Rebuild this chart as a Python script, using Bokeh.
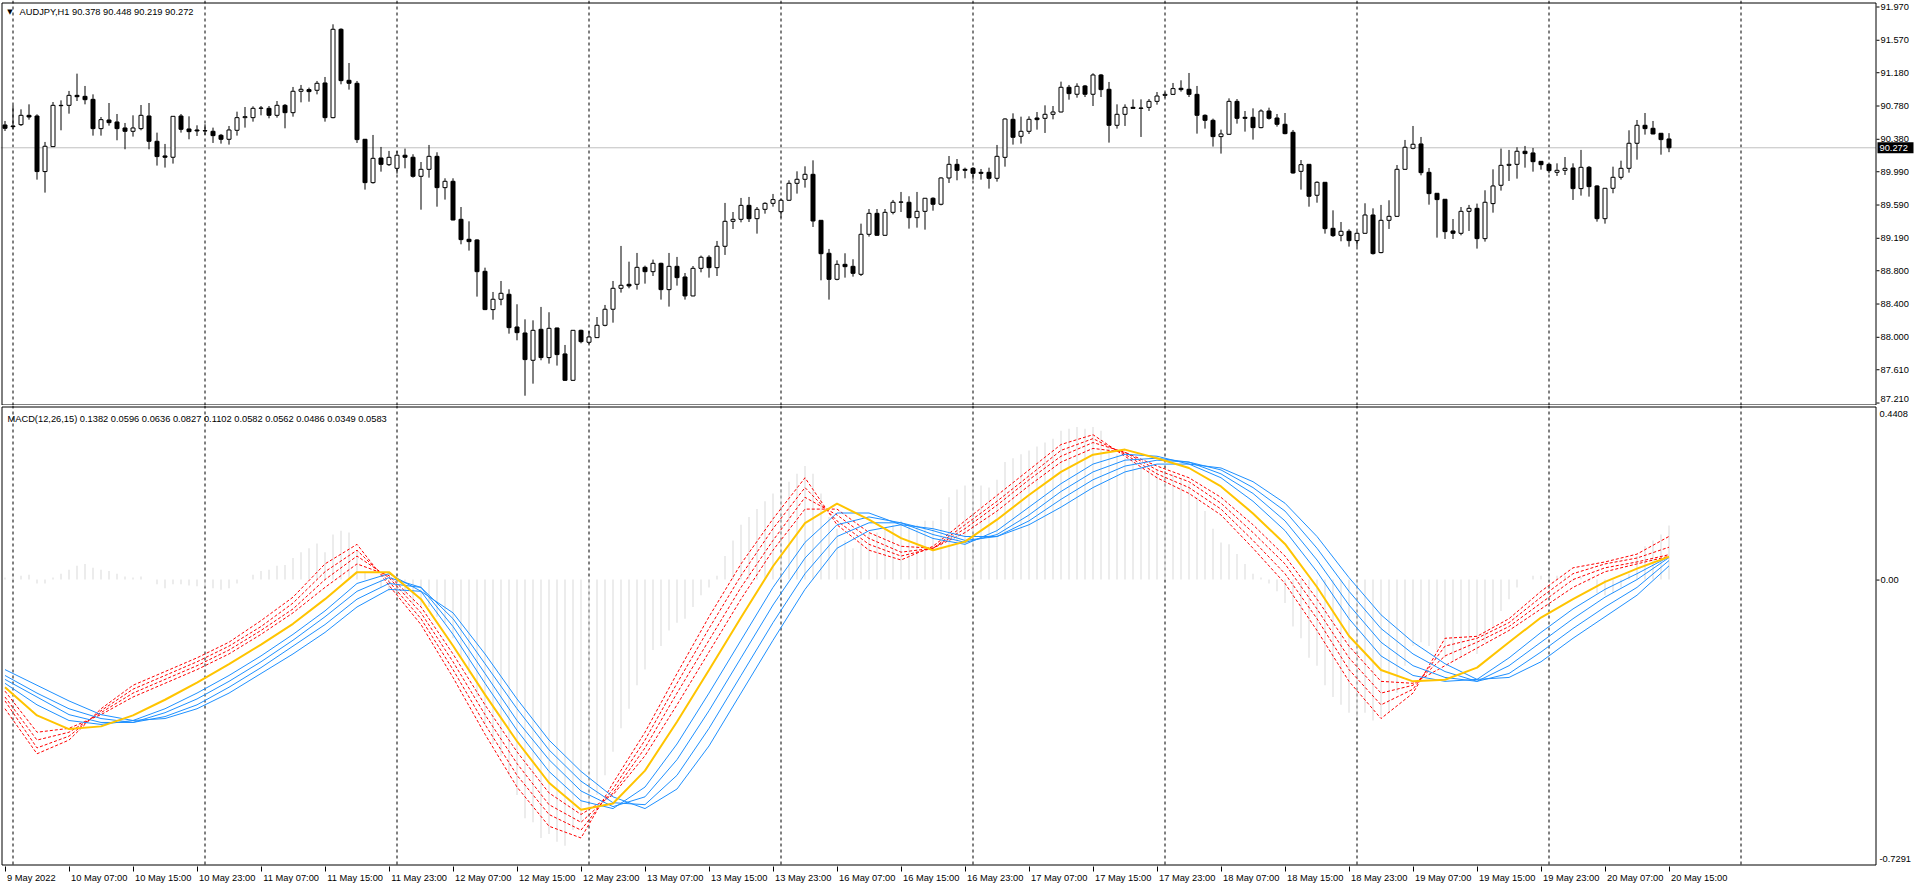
from bokeh.plotting import figure
from bokeh.layouts import column
from bokeh.models import Range1d, FixedTicker, Span, Label
from bokeh.core.properties import value
from bokeh.embed import file_html
from bokeh.resources import INLINE

# ---------------- data ----------------
opens = [90.546, 90.534, 90.550, 90.662, 90.654, 89.986, 90.286, 90.782, 90.782, 90.902,
         90.890, 90.854, 90.502, 90.606, 90.582, 90.510, 90.470, 90.502, 90.654, 90.350,
         90.174, 90.158, 90.654, 90.498, 90.486, 90.478, 90.470, 90.422, 90.374, 90.482,
         90.634, 90.634, 90.746, 90.746, 90.662, 90.782, 90.694, 90.951, 90.971, 90.963,
         91.051, 90.634, 91.696, 91.083, 91.047, 90.374, 89.853, 90.149, 90.069, 90.025,
         90.182, 90.158, 89.929, 90.013, 90.169, 89.793, 89.869, 89.412, 89.172, 89.164,
         88.787, 88.327, 88.451, 88.511, 88.118, 88.046, 87.718, 88.090, 87.750, 88.106,
         87.794, 87.477, 88.078, 87.934, 87.990, 88.138, 88.331, 88.583, 88.631, 88.631,
         88.835, 88.783, 88.883, 88.567, 88.847, 88.719, 88.491, 88.823, 88.956, 88.831,
         89.088, 89.388, 89.412, 89.580, 89.420, 89.532, 89.604, 89.504, 89.641, 89.845,
         89.893, 89.953, 89.400, 89.004, 88.691, 88.871, 88.847, 88.751, 89.232, 89.484,
         89.220, 89.496, 89.617, 89.617, 89.432, 89.508, 89.665, 89.593, 89.909, 90.073,
         90.013, 90.025, 89.977, 89.977, 89.905, 90.157, 90.614, 90.410, 90.470, 90.630,
         90.626, 90.674, 90.702, 90.999, 90.915, 91.015, 90.915, 91.147, 90.975, 90.542,
         90.674, 90.758, 90.750, 90.758, 90.830, 90.902, 90.914, 90.987, 90.975, 90.914,
         90.662, 90.602, 90.406, 90.434, 90.830, 90.638, 90.638, 90.514, 90.714, 90.630,
         90.554, 90.458, 89.989, 90.073, 89.701, 89.857, 89.304, 89.220, 89.268, 89.156,
         89.244, 89.464, 89.012, 89.400, 89.448, 90.013, 90.266, 90.318, 89.977, 89.725,
         89.653, 89.272, 89.244, 89.508, 89.544, 89.180, 89.601, 89.821, 90.061, 90.073,
         90.230, 90.210, 90.109, 90.073, 89.977, 90.001, 90.029, 89.781, 90.037, 89.813,
         89.420, 89.785, 89.917, 90.025, 90.326, 90.542, 90.506, 90.446, 90.378]
highs = [90.594, 90.782, 90.734, 90.794, 90.674, 90.342, 90.822, 90.842, 90.955, 91.163,
         91.015, 90.914, 90.642, 90.810, 90.678, 90.570, 90.662, 90.786, 90.810, 90.454,
         90.318, 90.652, 90.678, 90.650, 90.542, 90.554, 90.514, 90.438, 90.534, 90.706,
         90.762, 90.770, 90.774, 90.774, 90.834, 90.798, 91.003, 91.027, 90.995, 91.075,
         91.123, 91.756, 91.708, 91.291, 91.075, 90.378, 90.426, 90.282, 90.234, 90.234,
         90.262, 90.194, 90.101, 90.306, 90.218, 89.905, 89.905, 89.560, 89.388, 89.172,
         88.831, 88.539, 88.671, 88.571, 88.391, 88.210, 88.198, 88.359, 88.295, 88.110,
         87.902, 88.082, 88.086, 88.070, 88.238, 88.383, 88.671, 89.092, 88.903, 89.008,
         88.855, 88.928, 88.891, 89.008, 88.960, 88.767, 88.851, 88.976, 88.980, 89.152,
         89.609, 89.500, 89.669, 89.681, 89.560, 89.617, 89.717, 89.661, 89.881, 89.989,
         90.049, 90.121, 89.400, 89.056, 88.919, 89.004, 88.932, 89.360, 89.536, 89.536,
         89.536, 89.645, 89.741, 89.689, 89.741, 89.669, 89.677, 89.917, 90.173, 90.137,
         90.033, 90.041, 90.017, 90.033, 90.306, 90.626, 90.686, 90.646, 90.650, 90.702,
         90.782, 90.774, 91.067, 91.027, 91.047, 91.027, 91.167, 91.159, 91.063, 90.794,
         90.794, 90.854, 90.854, 90.858, 90.942, 90.938, 91.051, 91.083, 91.171, 91.015,
         90.674, 90.622, 90.490, 90.866, 90.858, 90.714, 90.746, 90.734, 90.754, 90.678,
         90.690, 90.486, 90.125, 90.073, 89.869, 89.857, 89.520, 89.380, 89.292, 89.268,
         89.605, 89.544, 89.585, 89.641, 90.065, 90.366, 90.534, 90.402, 90.029, 89.725,
         89.653, 89.416, 89.560, 89.585, 89.601, 89.761, 90.013, 90.262, 90.246, 90.278,
         90.294, 90.270, 90.113, 90.081, 90.085, 90.161, 90.085, 90.246, 90.053, 89.821,
         89.785, 90.045, 90.117, 90.482, 90.606, 90.690, 90.594, 90.450, 90.448]
lows = [90.474, 90.494, 90.534, 90.610, 89.889, 89.733, 90.280, 90.482, 90.682, 90.834,
        90.794, 90.418, 90.418, 90.538, 90.362, 90.254, 90.406, 90.482, 90.254, 90.058,
        90.034, 90.082, 90.454, 90.374, 90.414, 90.426, 90.330, 90.322, 90.310, 90.418,
        90.514, 90.586, 90.662, 90.626, 90.634, 90.506, 90.646, 90.818, 90.826, 90.914,
        90.586, 90.626, 91.035, 90.971, 90.330, 89.769, 89.841, 89.985, 90.053, 89.961,
        90.025, 89.913, 89.528, 89.913, 89.564, 89.649, 89.400, 89.112, 89.036, 88.483,
        88.321, 88.206, 88.379, 88.038, 87.958, 87.292, 87.437, 87.718, 87.678, 87.654,
        87.470, 87.470, 87.922, 87.910, 87.986, 88.126, 88.170, 88.531, 88.583, 88.567,
        88.639, 88.731, 88.447, 88.363, 88.615, 88.447, 88.487, 88.775, 88.711, 88.731,
        88.984, 89.296, 89.376, 89.380, 89.240, 89.480, 89.564, 89.432, 89.633, 89.721,
        89.793, 89.320, 88.679, 88.447, 88.679, 88.711, 88.723, 88.731, 89.204, 89.216,
        89.216, 89.472, 89.500, 89.300, 89.312, 89.288, 89.516, 89.580, 89.849, 89.881,
        89.905, 89.889, 89.889, 89.781, 89.865, 90.045, 90.310, 90.322, 90.438, 90.490,
        90.450, 90.614, 90.698, 90.850, 90.874, 90.882, 90.774, 90.882, 90.334, 90.502,
        90.534, 90.742, 90.402, 90.714, 90.790, 90.874, 90.906, 90.947, 90.882, 90.442,
        90.502, 90.286, 90.202, 90.430, 90.562, 90.466, 90.370, 90.506, 90.610, 90.526,
        90.434, 89.961, 89.769, 89.564, 89.612, 89.240, 89.200, 89.148, 89.084, 89.084,
        89.240, 88.988, 89.004, 89.296, 89.444, 90.009, 90.254, 89.941, 89.588, 89.192,
        89.176, 89.176, 89.220, 89.272, 89.060, 89.144, 89.492, 89.757, 89.873, 89.901,
        90.033, 89.985, 90.009, 89.965, 89.933, 89.945, 89.645, 89.697, 89.685, 89.384,
        89.360, 89.725, 89.889, 89.973, 90.129, 90.430, 90.434, 90.189, 90.219]
closes = [90.506, 90.526, 90.662, 90.642, 89.986, 90.290, 90.782, 90.778, 90.902, 90.886,
          90.850, 90.502, 90.610, 90.574, 90.502, 90.470, 90.510, 90.662, 90.350, 90.166,
          90.158, 90.650, 90.494, 90.466, 90.474, 90.474, 90.418, 90.374, 90.486, 90.634,
          90.646, 90.746, 90.750, 90.662, 90.782, 90.694, 90.951, 90.975, 90.947, 91.047,
          90.634, 91.696, 91.079, 91.047, 90.370, 89.853, 90.145, 90.073, 90.157, 90.182,
          90.158, 89.929, 90.013, 90.169, 89.793, 89.869, 89.404, 89.168, 89.144, 88.783,
          88.327, 88.451, 88.523, 88.110, 88.050, 87.726, 88.078, 87.750, 88.102, 87.786,
          87.477, 88.078, 87.942, 87.998, 88.138, 88.331, 88.583, 88.619, 88.611, 88.835,
          88.783, 88.883, 88.567, 88.847, 88.711, 88.491, 88.823, 88.956, 88.831, 89.088,
          89.388, 89.412, 89.580, 89.420, 89.532, 89.604, 89.649, 89.641, 89.845, 89.893,
          89.953, 89.392, 88.999, 88.691, 88.871, 88.843, 88.763, 89.232, 89.484, 89.220,
          89.496, 89.617, 89.621, 89.432, 89.508, 89.665, 89.593, 89.909, 90.073, 90.001,
          90.001, 89.965, 89.965, 89.905, 90.169, 90.618, 90.398, 90.470, 90.614, 90.610,
          90.674, 90.702, 90.999, 90.923, 91.011, 90.915, 91.147, 90.971, 90.542, 90.674,
          90.758, 90.746, 90.746, 90.830, 90.894, 90.914, 90.983, 90.971, 90.914, 90.662,
          90.602, 90.406, 90.438, 90.830, 90.626, 90.626, 90.514, 90.714, 90.626, 90.554,
          90.442, 89.969, 90.069, 89.689, 89.857, 89.300, 89.216, 89.268, 89.156, 89.244,
          89.464, 89.000, 89.400, 89.448, 90.013, 90.278, 90.314, 89.973, 89.721, 89.649,
          89.264, 89.244, 89.508, 89.544, 89.180, 89.617, 89.813, 90.061, 90.073, 90.230,
          90.202, 90.105, 90.069, 89.997, 90.001, 90.025, 89.781, 90.037, 89.805, 89.420,
          89.785, 89.917, 90.025, 90.326, 90.542, 90.502, 90.438, 90.370, 90.272]

x_tick_bars = list(range(0, 209, 8))
x_tick_labels = ["9 May 2022", "10 May 07:00", "10 May 15:00", "10 May 23:00", "11 May 07:00",
                 "11 May 15:00", "11 May 23:00", "12 May 07:00", "12 May 15:00", "12 May 23:00",
                 "13 May 07:00", "13 May 15:00", "13 May 23:00", "16 May 07:00", "16 May 15:00",
                 "16 May 23:00", "17 May 07:00", "17 May 15:00", "17 May 23:00", "18 May 07:00",
                 "18 May 15:00", "18 May 23:00", "19 May 07:00", "19 May 15:00", "19 May 23:00",
                 "20 May 07:00", "20 May 15:00"]
day_start_bars = [1, 25, 49, 73, 97, 121, 145, 169, 193, 217]
price_ticks = [91.970, 91.570, 91.180, 90.780, 90.380, 89.990, 89.590, 89.190,
               88.800, 88.400, 88.000, 87.610, 87.210]
price_tick_labels = ["91.970", "91.570", "91.180", "90.780", "90.380", "89.990", "89.590",
                     "89.190", "88.800", "88.400", "88.000", "87.610", "87.210"]
bid_price = 90.272
macd_max, macd_min = 0.4408, -0.7291

# MACD main (silver histogram), one value per bar
macd_hist = [0.005, 0.005, 0.010, 0.012, -0.010, -0.010, 0.005, 0.015, 0.025, 0.035,
             0.040, 0.030, 0.025, 0.022, 0.015, 0.008, 0.005, 0.008, 0.000, -0.012,
             -0.022, -0.012, -0.012, -0.015, -0.017, -0.018, -0.022, -0.026, -0.022, -0.010,
             0.000, 0.012, 0.022, 0.025, 0.035, 0.037, 0.055, 0.070, 0.080, 0.092,
             0.070, 0.115, 0.125, 0.120, 0.075, 0.020, 0.000, -0.020, -0.030, -0.035,
             -0.040, -0.060, -0.070, -0.070, -0.095, -0.110, -0.150, -0.200, -0.240, -0.300,
             -0.370, -0.420, -0.450, -0.500, -0.550, -0.610, -0.620, -0.660, -0.650, -0.670,
             -0.680, -0.640, -0.620, -0.590, -0.550, -0.500, -0.440, -0.380, -0.330, -0.270,
             -0.230, -0.180, -0.170, -0.130, -0.110, -0.100, -0.070, -0.040, -0.020, 0.010,
             0.060, 0.100, 0.140, 0.160, 0.180, 0.200, 0.220, 0.230, 0.250, 0.270,
             0.290, 0.270, 0.220, 0.160, 0.130, 0.100, 0.080, 0.100, 0.120, 0.120,
             0.130, 0.140, 0.150, 0.140, 0.140, 0.150, 0.150, 0.180, 0.210, 0.230,
             0.240, 0.240, 0.240, 0.235, 0.255, 0.300, 0.310, 0.320, 0.330, 0.340,
             0.350, 0.360, 0.380, 0.385, 0.390, 0.385, 0.390, 0.380, 0.340, 0.320,
             0.310, 0.300, 0.290, 0.285, 0.280, 0.275, 0.270, 0.260, 0.245, 0.210,
             0.175, 0.130, 0.095, 0.090, 0.065, 0.040, 0.015, 0.005, -0.010, -0.030,
             -0.060, -0.120, -0.150, -0.200, -0.220, -0.270, -0.300, -0.320, -0.340, -0.350,
             -0.340, -0.360, -0.350, -0.340, -0.290, -0.220, -0.170, -0.160, -0.170, -0.180,
             -0.200, -0.210, -0.200, -0.180, -0.190, -0.160, -0.120, -0.080, -0.050, -0.020,
             0.000, 0.010, 0.010, 0.010, 0.010, 0.010, -0.005, 0.005, -0.005, -0.035,
             -0.040, -0.035, -0.020, 0.015, 0.060, 0.085, 0.100, 0.115, 0.1382]

# smoothed lines, sampled every 4 bars
line_bars = list(range(0, 209, 4))
macd_yellow = [-0.275, -0.347, -0.382, -0.375, -0.347, -0.307, -0.263, -0.216, -0.166, -0.113,
               -0.050, 0.019, 0.019, -0.050, -0.169, -0.294, -0.413, -0.519, -0.588, -0.572,
               -0.488, -0.363, -0.231, -0.097, 0.034, 0.144, 0.194, 0.153, 0.106, 0.075,
               0.097, 0.153, 0.216, 0.275, 0.319, 0.332, 0.310, 0.285, 0.238, 0.169,
               0.091, -0.019, -0.144, -0.231, -0.260, -0.256, -0.225, -0.160, -0.097, -0.050,
               -0.006, 0.028, 0.0583]
red_1 = [-0.285, -0.390, -0.380, -0.345, -0.300, -0.265, -0.230, -0.190, -0.140, -0.085,
         -0.020, 0.040, 0.010, -0.070, -0.190, -0.320, -0.440, -0.545, -0.600, -0.550,
         -0.450, -0.320, -0.185, -0.050, 0.075, 0.180, 0.180, 0.120, 0.085, 0.080,
         0.120, 0.175, 0.240, 0.300, 0.335, 0.325, 0.290, 0.260, 0.210, 0.140,
         0.060, -0.050, -0.170, -0.260, -0.265, -0.220, -0.175, -0.130, -0.075, -0.020,
         0.020, 0.040, 0.0596]
red_2 = [-0.300, -0.410, -0.390, -0.340, -0.290, -0.255, -0.220, -0.180, -0.130, -0.075,
         0.000, 0.060, 0.005, -0.085, -0.210, -0.345, -0.470, -0.575, -0.620, -0.545,
         -0.430, -0.290, -0.155, -0.020, 0.100, 0.210, 0.165, 0.105, 0.070, 0.080,
         0.130, 0.190, 0.255, 0.315, 0.350, 0.325, 0.280, 0.250, 0.195, 0.120,
         0.040, -0.075, -0.200, -0.290, -0.270, -0.195, -0.160, -0.120, -0.060, 0.000,
         0.030, 0.045, 0.0636]
red_3 = [-0.310, -0.430, -0.400, -0.335, -0.280, -0.245, -0.210, -0.170, -0.120, -0.060,
         0.020, 0.075, -0.005, -0.100, -0.230, -0.370, -0.500, -0.600, -0.640, -0.535,
         -0.410, -0.265, -0.125, 0.010, 0.130, 0.235, 0.150, 0.090, 0.060, 0.080,
         0.140, 0.200, 0.265, 0.330, 0.360, 0.320, 0.270, 0.235, 0.180, 0.100,
         0.015, -0.100, -0.230, -0.320, -0.280, -0.170, -0.150, -0.110, -0.045, 0.015,
         0.040, 0.055, 0.0827]
red_4 = [-0.330, -0.445, -0.410, -0.330, -0.270, -0.235, -0.200, -0.160, -0.105, -0.045,
         0.040, 0.090, -0.015, -0.115, -0.250, -0.395, -0.530, -0.630, -0.660, -0.520,
         -0.390, -0.240, -0.095, 0.040, 0.155, 0.260, 0.140, 0.075, 0.050, 0.085,
         0.150, 0.215, 0.280, 0.345, 0.370, 0.315, 0.260, 0.220, 0.165, 0.080,
         -0.010, -0.130, -0.260, -0.355, -0.290, -0.150, -0.145, -0.100, -0.030, 0.030,
         0.045, 0.065, 0.1102]
blue_1 = [-0.265, -0.320, -0.360, -0.370, -0.360, -0.330, -0.290, -0.245, -0.195, -0.140,
          -0.080, -0.010, 0.015, -0.030, -0.140, -0.265, -0.385, -0.490, -0.565, -0.585,
          -0.530, -0.420, -0.290, -0.155, -0.020, 0.095, 0.170, 0.170, 0.140, 0.105,
          0.090, 0.125, 0.185, 0.245, 0.295, 0.320, 0.315, 0.295, 0.260, 0.200,
          0.125, 0.020, -0.100, -0.195, -0.245, -0.260, -0.255, -0.200, -0.135, -0.075,
          -0.025, 0.015, 0.0582]
blue_2 = [-0.255, -0.300, -0.345, -0.365, -0.365, -0.340, -0.305, -0.260, -0.210, -0.155,
          -0.095, -0.030, 0.005, -0.020, -0.120, -0.240, -0.360, -0.460, -0.540, -0.580,
          -0.555, -0.460, -0.335, -0.200, -0.065, 0.055, 0.140, 0.160, 0.145, 0.115,
          0.095, 0.115, 0.165, 0.225, 0.275, 0.305, 0.310, 0.300, 0.270, 0.220,
          0.150, 0.050, -0.065, -0.160, -0.220, -0.250, -0.260, -0.220, -0.160, -0.100,
          -0.045, 0.000, 0.0562]
blue_3 = [-0.245, -0.290, -0.330, -0.355, -0.365, -0.350, -0.320, -0.275, -0.225, -0.170,
          -0.115, -0.050, -0.010, -0.020, -0.100, -0.215, -0.330, -0.435, -0.515, -0.570,
          -0.575, -0.500, -0.380, -0.245, -0.110, 0.015, 0.110, 0.145, 0.145, 0.125,
          0.100, 0.110, 0.150, 0.205, 0.255, 0.290, 0.305, 0.300, 0.280, 0.235,
          0.175, 0.080, -0.030, -0.125, -0.190, -0.235, -0.260, -0.240, -0.185, -0.125,
          -0.070, -0.020, 0.0486]
blue_4 = [-0.230, -0.270, -0.310, -0.345, -0.360, -0.355, -0.330, -0.290, -0.240, -0.190,
          -0.135, -0.070, -0.025, -0.030, -0.085, -0.190, -0.305, -0.410, -0.490, -0.555,
          -0.585, -0.535, -0.425, -0.290, -0.155, -0.025, 0.080, 0.125, 0.140, 0.130,
          0.110, 0.110, 0.140, 0.185, 0.235, 0.275, 0.295, 0.295, 0.285, 0.250,
          0.195, 0.110, 0.005, -0.090, -0.160, -0.215, -0.255, -0.250, -0.210, -0.150,
          -0.095, -0.040, 0.0349]

header_top = "AUDJPY,H1  90.378 90.448 90.219 90.272"
header_macd = "MACD(12,26,15) 0.1382 0.0596 0.0636 0.0827 0.1102 0.0582 0.0562 0.0486 0.0349 0.0583"

# ---------------- layout helpers (pixel geometry of the MT4 window) ----------------
FONT = "Liberation Sans"
FS_PX = 9.3
FS = f"{FS_PX}px"
W = 1916
BAR_PX = 8.0
BAR0_PX = 4.5          # page x of the first bar centre


def xd(px):            # page x -> bar axis
    return (px - BAR0_PX) / BAR_PX


xr = Range1d(xd(0), xd(W))

TOP_ROWS = 405
K1 = 83.2              # px per price unit
top_end = price_ticks[0] + 6.0 / K1
y_top = Range1d(top_end - TOP_ROWS / K1, top_end)


def yp(row):           # page row -> price
    return top_end - row / K1


BOT_ROW0 = 405
BOT_ROWS = 461
K2 = (864.5 - 406.5) / (macd_max - macd_min)
bot_end = macd_max + (406.5 - BOT_ROW0) / K2
y_bot = Range1d(bot_end - BOT_ROWS / K2, bot_end)


def yv(row):           # page row -> MACD value
    return bot_end - (row - BOT_ROW0) / K2


AXIS_X = xd(1875.5)
BORDER_L = xd(1.5)


def base_fig(**kw):
    p = figure(frame_width=W, x_range=xr, output_backend="svg", toolbar_location=None,
               y_axis_location=None, min_border_left=0, min_border_right=0,
               min_border_top=0, **kw)
    p.xgrid.visible = False
    p.ygrid.visible = False
    p.outline_line_color = None
    p.background_fill_color = "white"
    p.border_fill_color = "white"
    return p


def txt(p, xs, ys, labels, color="black", align="left", baseline="middle"):
    p.text(x=xs, y=ys, text=labels, text_font=value(FONT), text_font_size=value(FS),
           text_color=color, text_align=align, text_baseline=baseline)


# ---------------- price pane ----------------
top = base_fig(frame_height=TOP_ROWS, y_range=y_top, x_axis_location=None, min_border_bottom=0)

for d in day_start_bars:
    top.add_layout(Span(location=d, dimension="height", line_color="black", line_width=1,
                        line_dash="3 3", level="underlay"))
top.segment(x0=[xd(0)], y0=[bid_price], x1=[AXIS_X], y1=[bid_price],
            line_color="#c0c0c0", line_width=1)

idx = list(range(len(opens)))
up = [i for i in idx if closes[i] >= opens[i]]
dn = [i for i in idx if closes[i] < opens[i]]
top.segment(x0=idx, y0=lows, x1=idx, y1=highs, line_color="black", line_width=1)
top.vbar(x=up, bottom=[opens[i] for i in up], top=[closes[i] for i in up], width=0.5,
         fill_color="white", line_color="black", line_width=1)
top.vbar(x=dn, bottom=[closes[i] for i in dn], top=[opens[i] for i in dn], width=0.5,
         fill_color="black", line_color="black", line_width=1)

# pane border and right price scale
top.quad(left=[BORDER_L], right=[AXIS_X], top=[yp(2.5)], bottom=[yp(404.5)],
         fill_color=None, line_color="black", line_width=1)
tick_y = [t - 0.5 / K1 for t in price_ticks]
top.segment(x0=[xd(1876)] * len(tick_y), y0=tick_y, x1=[xd(1879)] * len(tick_y), y1=tick_y,
            line_color="black", line_width=1)
# labels centred on their tick; the lowest one is lifted a little to stay inside the pane
label_y = tick_y[:-1] + [yp(398.5)]
txt(top, [xd(1880)] * len(label_y), label_y, price_tick_labels)
top.quad(left=[xd(1877)], right=[xd(1913)], top=[bid_price + 5.5 / K1],
         bottom=[bid_price - 5.5 / K1], fill_color="black", line_color=None)
txt(top, [xd(1879)], [bid_price], [f"{bid_price:.3f}"], color="white")

hdr_y = yp(11)
top.add_layout(Label(x=xd(9.5), y=hdr_y, text="▼", text_font="DejaVu Sans",
                     text_font_size="7px", text_baseline="middle", text_align="center",
                     text_color="black"))
top.add_layout(Label(x=xd(19), y=hdr_y, text=header_top, text_font=FONT,
                     text_font_size=FS, text_baseline="middle", text_color="black"))

# ---------------- MACD pane ----------------
bot = base_fig(frame_height=BOT_ROWS, y_range=y_bot, x_axis_location="below",
               min_border_bottom=18)

CHAR_EM = {"M": 0.833, "a": 0.556, "y": 0.5, " ": 0.278, ":": 0.278}


def text_px(s):
    return sum(CHAR_EM.get(c, 0.556) for c in s) * FS_PX


label_pos = [b + (2 + text_px(t) / 2) / BAR_PX for b, t in zip(x_tick_bars, x_tick_labels)]
bot.xaxis.ticker = FixedTicker(ticks=label_pos, minor_ticks=x_tick_bars)
bot.xaxis.major_label_overrides = {pos: t for pos, t in zip(label_pos, x_tick_labels)}
bot.xaxis.major_label_text_font = FONT
bot.xaxis.major_label_text_font_size = FS
bot.xaxis.major_label_text_color = "black"
bot.xaxis.major_tick_line_color = None
bot.xaxis.major_tick_out = 3
bot.xaxis.major_tick_in = 0
bot.xaxis.minor_tick_line_color = "black"
bot.xaxis.minor_tick_out = 5
bot.xaxis.minor_tick_in = 0
bot.xaxis.major_label_standoff = 1
bot.xaxis.axis_line_color = None

for d in day_start_bars:
    bot.add_layout(Span(location=d, dimension="height", line_color="black", line_width=1,
                        line_dash="3 3", level="underlay"))

bot.vbar(x=idx, top=macd_hist, bottom=0, width=1 / BAR_PX, fill_color="#d9d9d9",
         line_color=None)
for r in (red_1, red_2, red_3, red_4):
    bot.line(line_bars, r, line_color="#ff0000", line_width=1, line_dash="3 2")
for b in (blue_1, blue_2, blue_3, blue_4):
    bot.line(line_bars, b, line_color="#1e90ff", line_width=1)
bot.line(line_bars, macd_yellow, line_color="#ffc400", line_width=2)

bot.quad(left=[BORDER_L], right=[AXIS_X], top=[yv(406.5)], bottom=[yv(864.5)],
         fill_color=None, line_color="black", line_width=1)
zero_y = 0.0 - 0.5 / K2
bot.segment(x0=[xd(1876)], y0=[zero_y], x1=[xd(1879)], y1=[zero_y], line_color="black",
            line_width=1)
txt(bot, [xd(1879), xd(1880), xd(1879)], [yv(413), zero_y, yv(858)],
    [f"{macd_max:.4f}", "0.00", f"{macd_min:.4f}"])

bot.add_layout(Label(x=xd(7), y=yv(418), text=header_macd, text_font=FONT,
                     text_font_size=FS, text_baseline="middle", text_color="black"))

p = column(top, bot, spacing=0)
open("out.html", "w").write(file_html(p, INLINE))
